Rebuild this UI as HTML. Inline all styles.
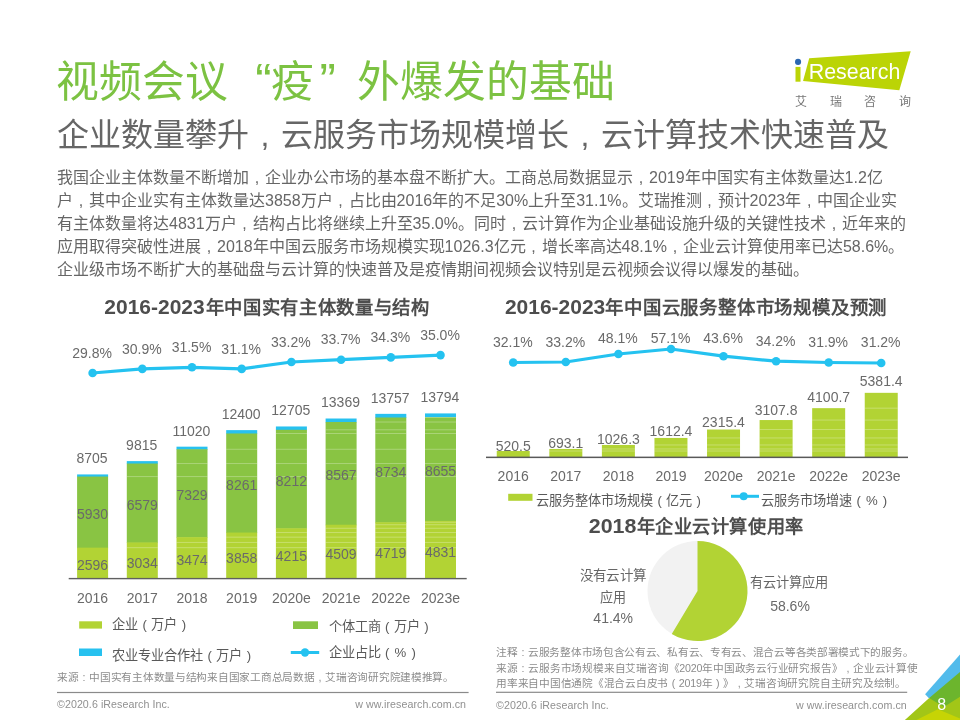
<!DOCTYPE html>
<html lang="zh-CN"><head><meta charset="utf-8"><title>slide</title>
<style>
html,body{margin:0;padding:0;background:#fff}
body{width:960px;height:720px;position:relative;overflow:hidden;will-change:transform;font-family:"Liberation Sans", sans-serif;}
.t{position:absolute;white-space:nowrap;font-family:"Liberation Sans", sans-serif;}
.title{left:56.3px;top:52px;font-size:42.8px;line-height:60px;color:#7cc242;}
.title .q{display:inline-block;box-sizing:border-box;width:42.7px;font-size:49px;line-height:0;position:relative;top:-0.5px}
.title .ql{text-align:right;padding-right:0;left:0.5px}
.title .qr{text-align:left;padding-left:5.5px}
.sub{left:57px;top:112.3px;font-size:32px;line-height:46px;color:#666;}
.body{left:57px;font-size:16px;line-height:22.9px;color:#666;}
.src{font-size:10.67px;line-height:15.5px;color:#8c8c8c;}
.ft{font-size:10.67px;line-height:14px;color:#909090;letter-spacing:0.06px}
svg{position:absolute;left:0;top:0}
svg text{font-family:"Liberation Sans", sans-serif;}
.ct{font-weight:bold;fill:#4d4d4d}
.n{font-size:14px;fill:#6a6a6a;text-anchor:middle}
.m{font-size:14px;fill:#6a6a6a;text-anchor:middle}
.lg{font-size:13.2px;line-height:17px;color:#595959}
.t i{display:inline-block;width:1em;text-align:center;font-style:normal}
.pl{font-size:13.3px;fill:#666}
</style></head>
<body>
<div class="t title">视频会议<span class="q ql">“</span>疫<span class="q qr">”</span>外爆发的基础</div>
<div class="t sub">企业数量攀升<i>,</i>云服务市场规模增长<i>,</i>云计算技术快速普及</div>
<div class="t body" id="b0" style="top:167.2px">我国企业主体数量不断增加<i>,</i>企业办公市场的基本盘不断扩大。工商总局数据显示<i>,</i>2019年中国实有主体数量达1.2亿</div>
<div class="t body" id="b1" style="top:190.1px">户<i>,</i>其中企业实有主体数量达3858万户<i>,</i>占比由2016年的不足30%上升至31.1%。艾瑞推测<i>,</i>预计2023年<i>,</i>中国企业实</div>
<div class="t body" id="b2" style="top:213.0px">有主体数量将达4831万户<i>,</i>结构占比将继续上升至35.0%。同时<i>,</i>云计算作为企业基础设施升级的关键性技术<i>,</i>近年来的</div>
<div class="t body" id="b3" style="top:235.9px">应用取得突破性进展<i>,</i>2018年中国云服务市场规模实现1026.3亿元<i>,</i>增长率高达48.1%<i>,</i>企业云计算使用率已达58.6%。</div>
<div class="t body" id="b4" style="top:258.8px">企业级市场不断扩大的基础盘与云计算的快速普及是疫情期间视频会议特别是云视频会议得以爆发的基础。</div>
<svg width="960" height="720" viewBox="0 0 960 720">
<polygon points="809.2,58.3 910.7,51.2 899.3,90.3 803.05,81.1" fill="#bbd406"/>
<rect x="795.5" y="66.9" width="5" height="14.8" fill="#bbd406"/>
<circle cx="798.05" cy="61.9" r="3.05" fill="#2a67b1"/>
<text x="808.7" y="79" font-size="21.5" fill="#ffffff" textLength="91.6" lengthAdjust="spacingAndGlyphs">Research</text>
<text x="795.3" y="105.8" font-size="12" fill="#777777">艾</text>
<text x="829.7" y="105.8" font-size="12" fill="#777777">瑞</text>
<text x="864.1" y="105.8" font-size="12" fill="#777777">咨</text>
<text x="898.5" y="105.8" font-size="12" fill="#777777">询</text>
<text class="ct" x="104.3" y="313.8" font-size="19.6" textLength="100.4" lengthAdjust="spacingAndGlyphs">2016-2023</text>
<text class="ct" x="205.5" y="313.6" font-size="18.6" textLength="224" lengthAdjust="spacingAndGlyphs">年中国实有主体数量与结构</text>
<rect x="77.10" y="474.43" width="31" height="2.65" fill="#27c1ef"/>
<rect x="77.10" y="476.57" width="31" height="71.60" fill="#89c443"/>
<rect x="77.10" y="547.67" width="31" height="31.13" fill="#b2d334"/>
<text class="n" x="92.0" y="463.2">8705</text>
<text class="n" x="92.6" y="519.1">5930</text>
<text class="n" x="92.6" y="570.2">2596</text>
<text class="n" x="92.6" y="603">2016</text>
<text class="n" x="92.1" y="357.7">29.8%</text>
<rect x="126.80" y="461.12" width="31" height="2.92" fill="#27c1ef"/>
<rect x="126.80" y="463.54" width="31" height="79.38" fill="#89c443"/>
<rect x="126.80" y="542.42" width="31" height="36.38" fill="#b2d334"/>
<rect x="126.80" y="476.07" width="31" height="1" fill="#fff" opacity="0.28"/>
<rect x="126.80" y="547.17" width="31" height="1" fill="#fff" opacity="0.28"/>
<text class="n" x="141.7" y="449.9">9815</text>
<text class="n" x="142.3" y="510.0">6579</text>
<text class="n" x="142.3" y="567.6">3034</text>
<text class="n" x="142.3" y="603">2017</text>
<text class="n" x="141.8" y="353.6">30.9%</text>
<rect x="176.50" y="446.67" width="31" height="3.10" fill="#27c1ef"/>
<rect x="176.50" y="449.27" width="31" height="88.37" fill="#89c443"/>
<rect x="176.50" y="537.15" width="31" height="41.65" fill="#b2d334"/>
<rect x="176.50" y="476.07" width="31" height="1" fill="#fff" opacity="0.28"/>
<rect x="176.50" y="547.17" width="31" height="1" fill="#fff" opacity="0.28"/>
<rect x="176.50" y="463.04" width="31" height="1" fill="#fff" opacity="0.28"/>
<rect x="176.50" y="541.92" width="31" height="1" fill="#fff" opacity="0.28"/>
<text class="n" x="191.4" y="435.5">11020</text>
<text class="n" x="192.0" y="500.2">7329</text>
<text class="n" x="192.0" y="565.0">3474</text>
<text class="n" x="192.0" y="603">2018</text>
<text class="n" x="191.5" y="352.0">31.5%</text>
<rect x="226.20" y="430.12" width="31" height="3.87" fill="#27c1ef"/>
<rect x="226.20" y="433.49" width="31" height="99.55" fill="#89c443"/>
<rect x="226.20" y="532.54" width="31" height="46.26" fill="#b2d334"/>
<rect x="226.20" y="476.07" width="31" height="1" fill="#fff" opacity="0.28"/>
<rect x="226.20" y="547.17" width="31" height="1" fill="#fff" opacity="0.28"/>
<rect x="226.20" y="463.04" width="31" height="1" fill="#fff" opacity="0.28"/>
<rect x="226.20" y="541.92" width="31" height="1" fill="#fff" opacity="0.28"/>
<rect x="226.20" y="448.77" width="31" height="1" fill="#fff" opacity="0.28"/>
<rect x="226.20" y="536.65" width="31" height="1" fill="#fff" opacity="0.28"/>
<text class="n" x="241.1" y="418.9">12400</text>
<text class="n" x="241.7" y="490.0">8261</text>
<text class="n" x="241.7" y="562.7">3858</text>
<text class="n" x="241.7" y="603">2019</text>
<text class="n" x="241.2" y="353.6">31.1%</text>
<rect x="275.90" y="426.47" width="31" height="3.83" fill="#27c1ef"/>
<rect x="275.90" y="429.80" width="31" height="98.96" fill="#89c443"/>
<rect x="275.90" y="528.26" width="31" height="50.54" fill="#b2d334"/>
<rect x="275.90" y="476.07" width="31" height="1" fill="#fff" opacity="0.28"/>
<rect x="275.90" y="547.17" width="31" height="1" fill="#fff" opacity="0.28"/>
<rect x="275.90" y="463.04" width="31" height="1" fill="#fff" opacity="0.28"/>
<rect x="275.90" y="541.92" width="31" height="1" fill="#fff" opacity="0.28"/>
<rect x="275.90" y="448.77" width="31" height="1" fill="#fff" opacity="0.28"/>
<rect x="275.90" y="536.65" width="31" height="1" fill="#fff" opacity="0.28"/>
<rect x="275.90" y="432.99" width="31" height="1" fill="#fff" opacity="0.28"/>
<rect x="275.90" y="532.04" width="31" height="1" fill="#fff" opacity="0.28"/>
<text class="n" x="290.8" y="415.3">12705</text>
<text class="n" x="291.4" y="486.0">8212</text>
<text class="n" x="291.4" y="560.5">4215</text>
<text class="n" x="291.4" y="603">2020e</text>
<text class="n" x="290.9" y="346.7">33.2%</text>
<rect x="325.60" y="418.51" width="31" height="4.01" fill="#27c1ef"/>
<rect x="325.60" y="422.02" width="31" height="103.22" fill="#89c443"/>
<rect x="325.60" y="524.74" width="31" height="54.06" fill="#b2d334"/>
<rect x="325.60" y="476.07" width="31" height="1" fill="#fff" opacity="0.28"/>
<rect x="325.60" y="547.17" width="31" height="1" fill="#fff" opacity="0.28"/>
<rect x="325.60" y="463.04" width="31" height="1" fill="#fff" opacity="0.28"/>
<rect x="325.60" y="541.92" width="31" height="1" fill="#fff" opacity="0.28"/>
<rect x="325.60" y="448.77" width="31" height="1" fill="#fff" opacity="0.28"/>
<rect x="325.60" y="536.65" width="31" height="1" fill="#fff" opacity="0.28"/>
<rect x="325.60" y="432.99" width="31" height="1" fill="#fff" opacity="0.28"/>
<rect x="325.60" y="532.04" width="31" height="1" fill="#fff" opacity="0.28"/>
<rect x="325.60" y="429.30" width="31" height="1" fill="#fff" opacity="0.28"/>
<rect x="325.60" y="527.76" width="31" height="1" fill="#fff" opacity="0.28"/>
<text class="n" x="340.5" y="407.3">13369</text>
<text class="n" x="341.1" y="480.4">8567</text>
<text class="n" x="341.1" y="558.8">4509</text>
<text class="n" x="341.1" y="603">2021e</text>
<text class="n" x="340.6" y="344.4">33.7%</text>
<rect x="375.30" y="413.85" width="31" height="4.14" fill="#27c1ef"/>
<rect x="375.30" y="417.50" width="31" height="105.22" fill="#89c443"/>
<rect x="375.30" y="522.22" width="31" height="56.58" fill="#b2d334"/>
<rect x="375.30" y="476.07" width="31" height="1" fill="#fff" opacity="0.28"/>
<rect x="375.30" y="547.17" width="31" height="1" fill="#fff" opacity="0.28"/>
<rect x="375.30" y="463.04" width="31" height="1" fill="#fff" opacity="0.28"/>
<rect x="375.30" y="541.92" width="31" height="1" fill="#fff" opacity="0.28"/>
<rect x="375.30" y="448.77" width="31" height="1" fill="#fff" opacity="0.28"/>
<rect x="375.30" y="536.65" width="31" height="1" fill="#fff" opacity="0.28"/>
<rect x="375.30" y="432.99" width="31" height="1" fill="#fff" opacity="0.28"/>
<rect x="375.30" y="532.04" width="31" height="1" fill="#fff" opacity="0.28"/>
<rect x="375.30" y="429.30" width="31" height="1" fill="#fff" opacity="0.28"/>
<rect x="375.30" y="527.76" width="31" height="1" fill="#fff" opacity="0.28"/>
<rect x="375.30" y="421.52" width="31" height="1" fill="#fff" opacity="0.28"/>
<rect x="375.30" y="524.24" width="31" height="1" fill="#fff" opacity="0.28"/>
<text class="n" x="390.2" y="402.7">13757</text>
<text class="n" x="390.8" y="476.9">8734</text>
<text class="n" x="390.8" y="557.5">4719</text>
<text class="n" x="390.8" y="603">2022e</text>
<text class="n" x="390.3" y="342.1">34.3%</text>
<rect x="425.00" y="413.41" width="31" height="4.19" fill="#27c1ef"/>
<rect x="425.00" y="417.10" width="31" height="104.27" fill="#89c443"/>
<rect x="425.00" y="520.88" width="31" height="57.92" fill="#b2d334"/>
<rect x="425.00" y="476.07" width="31" height="1" fill="#fff" opacity="0.28"/>
<rect x="425.00" y="547.17" width="31" height="1" fill="#fff" opacity="0.28"/>
<rect x="425.00" y="463.04" width="31" height="1" fill="#fff" opacity="0.28"/>
<rect x="425.00" y="541.92" width="31" height="1" fill="#fff" opacity="0.28"/>
<rect x="425.00" y="448.77" width="31" height="1" fill="#fff" opacity="0.28"/>
<rect x="425.00" y="536.65" width="31" height="1" fill="#fff" opacity="0.28"/>
<rect x="425.00" y="432.99" width="31" height="1" fill="#fff" opacity="0.28"/>
<rect x="425.00" y="532.04" width="31" height="1" fill="#fff" opacity="0.28"/>
<rect x="425.00" y="429.30" width="31" height="1" fill="#fff" opacity="0.28"/>
<rect x="425.00" y="527.76" width="31" height="1" fill="#fff" opacity="0.28"/>
<rect x="425.00" y="421.52" width="31" height="1" fill="#fff" opacity="0.28"/>
<rect x="425.00" y="524.24" width="31" height="1" fill="#fff" opacity="0.28"/>
<rect x="425.00" y="417.00" width="31" height="1" fill="#fff" opacity="0.28"/>
<rect x="425.00" y="521.72" width="31" height="1" fill="#fff" opacity="0.28"/>
<text class="n" x="439.9" y="402.2">13794</text>
<text class="n" x="440.5" y="476.0">8655</text>
<text class="n" x="440.5" y="556.8">4831</text>
<text class="n" x="440.5" y="603">2023e</text>
<text class="n" x="440.0" y="339.8">35.0%</text>
<rect x="68.7" y="577.9" width="398" height="1.4" fill="#606060"/>
<polyline points="92.6,373.0 142.3,368.9 192.0,367.3 241.7,368.9 291.4,362.0 341.1,359.7 390.8,357.4 440.5,355.1" fill="none" stroke="#24c2f0" stroke-width="3.2" stroke-linejoin="round"/>
<circle cx="92.6" cy="373.0" r="4.3" fill="#24c2f0"/>
<circle cx="142.3" cy="368.9" r="4.3" fill="#24c2f0"/>
<circle cx="192.0" cy="367.3" r="4.3" fill="#24c2f0"/>
<circle cx="241.7" cy="368.9" r="4.3" fill="#24c2f0"/>
<circle cx="291.4" cy="362.0" r="4.3" fill="#24c2f0"/>
<circle cx="341.1" cy="359.7" r="4.3" fill="#24c2f0"/>
<circle cx="390.8" cy="357.4" r="4.3" fill="#24c2f0"/>
<circle cx="440.5" cy="355.1" r="4.3" fill="#24c2f0"/>
<rect x="79.2" y="621.3" width="22.8" height="7.3" fill="#b2d334"/>
<rect x="293" y="621.3" width="25" height="7.7" fill="#89c443"/>
<rect x="79" y="648.5" width="23" height="7.5" fill="#27c1ef"/>
<line x1="290.8" y1="652.5" x2="319.2" y2="652.5" stroke="#24c2f0" stroke-width="3"/>
<circle cx="305" cy="652.5" r="4.2" fill="#24c2f0"/>
<text class="ct" x="504.9" y="314.4" font-size="19.6" textLength="100.4" lengthAdjust="spacingAndGlyphs">2016-2023</text>
<text class="ct" x="605.3" y="314.3" font-size="18.6" textLength="282" lengthAdjust="spacingAndGlyphs">年中国云服务整体市场规模及预测</text>
<text class="m" x="513.2" y="450.7">520.5</text>
<rect x="496.75" y="451.02" width="33" height="6.23" fill="#b2d334"/>
<text class="m" x="513.2" y="480.8">2016</text>
<text class="m" x="512.8" y="347.3">32.1%</text>
<text class="m" x="565.8" y="447.5">693.1</text>
<rect x="549.32" y="448.95" width="33" height="8.30" fill="#b2d334"/>
<rect x="549.32" y="450.52" width="33" height="1" fill="#fff" opacity="0.28"/>
<text class="m" x="565.8" y="480.8">2017</text>
<text class="m" x="565.3" y="347.0">33.2%</text>
<text class="m" x="618.4" y="443.5">1026.3</text>
<rect x="601.89" y="444.97" width="33" height="12.28" fill="#b2d334"/>
<rect x="601.89" y="450.52" width="33" height="1" fill="#fff" opacity="0.28"/>
<rect x="601.89" y="448.45" width="33" height="1" fill="#fff" opacity="0.28"/>
<text class="m" x="618.4" y="480.8">2018</text>
<text class="m" x="617.9" y="343.0">48.1%</text>
<text class="m" x="671.0" y="436.4">1612.4</text>
<rect x="654.46" y="437.95" width="33" height="19.30" fill="#b2d334"/>
<rect x="654.46" y="450.52" width="33" height="1" fill="#fff" opacity="0.28"/>
<rect x="654.46" y="448.45" width="33" height="1" fill="#fff" opacity="0.28"/>
<rect x="654.46" y="444.47" width="33" height="1" fill="#fff" opacity="0.28"/>
<text class="m" x="671.0" y="480.8">2019</text>
<text class="m" x="670.5" y="342.5">57.1%</text>
<text class="m" x="723.5" y="426.5">2315.4</text>
<rect x="707.03" y="429.53" width="33" height="27.72" fill="#b2d334"/>
<rect x="707.03" y="450.52" width="33" height="1" fill="#fff" opacity="0.28"/>
<rect x="707.03" y="448.45" width="33" height="1" fill="#fff" opacity="0.28"/>
<rect x="707.03" y="444.47" width="33" height="1" fill="#fff" opacity="0.28"/>
<rect x="707.03" y="437.45" width="33" height="1" fill="#fff" opacity="0.28"/>
<text class="m" x="723.5" y="480.8">2020e</text>
<text class="m" x="723.0" y="343.2">43.6%</text>
<text class="m" x="776.1" y="414.7">3107.8</text>
<rect x="759.60" y="420.05" width="33" height="37.20" fill="#b2d334"/>
<rect x="759.60" y="450.52" width="33" height="1" fill="#fff" opacity="0.28"/>
<rect x="759.60" y="448.45" width="33" height="1" fill="#fff" opacity="0.28"/>
<rect x="759.60" y="444.47" width="33" height="1" fill="#fff" opacity="0.28"/>
<rect x="759.60" y="437.45" width="33" height="1" fill="#fff" opacity="0.28"/>
<rect x="759.60" y="429.03" width="33" height="1" fill="#fff" opacity="0.28"/>
<text class="m" x="776.1" y="480.8">2021e</text>
<text class="m" x="775.6" y="346.3">34.2%</text>
<text class="m" x="828.7" y="402.2">4100.7</text>
<rect x="812.17" y="408.16" width="33" height="49.09" fill="#b2d334"/>
<rect x="812.17" y="450.52" width="33" height="1" fill="#fff" opacity="0.28"/>
<rect x="812.17" y="448.45" width="33" height="1" fill="#fff" opacity="0.28"/>
<rect x="812.17" y="444.47" width="33" height="1" fill="#fff" opacity="0.28"/>
<rect x="812.17" y="437.45" width="33" height="1" fill="#fff" opacity="0.28"/>
<rect x="812.17" y="429.03" width="33" height="1" fill="#fff" opacity="0.28"/>
<rect x="812.17" y="419.55" width="33" height="1" fill="#fff" opacity="0.28"/>
<text class="m" x="828.7" y="480.8">2022e</text>
<text class="m" x="828.2" y="347.0">31.9%</text>
<text class="m" x="881.2" y="385.8">5381.4</text>
<rect x="864.74" y="392.83" width="33" height="64.42" fill="#b2d334"/>
<rect x="864.74" y="450.52" width="33" height="1" fill="#fff" opacity="0.28"/>
<rect x="864.74" y="448.45" width="33" height="1" fill="#fff" opacity="0.28"/>
<rect x="864.74" y="444.47" width="33" height="1" fill="#fff" opacity="0.28"/>
<rect x="864.74" y="437.45" width="33" height="1" fill="#fff" opacity="0.28"/>
<rect x="864.74" y="429.03" width="33" height="1" fill="#fff" opacity="0.28"/>
<rect x="864.74" y="419.55" width="33" height="1" fill="#fff" opacity="0.28"/>
<rect x="864.74" y="407.66" width="33" height="1" fill="#fff" opacity="0.28"/>
<text class="m" x="881.2" y="480.8">2023e</text>
<text class="m" x="880.7" y="347.0">31.2%</text>
<rect x="486" y="456.6" width="422" height="1.5" fill="#595959"/>
<polyline points="513.2,362.5 565.8,362.0 618.4,354.0 671.0,349.0 723.5,356.2 776.1,361.2 828.7,362.5 881.2,363.0" fill="none" stroke="#24c2f0" stroke-width="3.2" stroke-linejoin="round"/>
<circle cx="513.2" cy="362.5" r="4.3" fill="#24c2f0"/>
<circle cx="565.8" cy="362.0" r="4.3" fill="#24c2f0"/>
<circle cx="618.4" cy="354.0" r="4.3" fill="#24c2f0"/>
<circle cx="671.0" cy="349.0" r="4.3" fill="#24c2f0"/>
<circle cx="723.5" cy="356.2" r="4.3" fill="#24c2f0"/>
<circle cx="776.1" cy="361.2" r="4.3" fill="#24c2f0"/>
<circle cx="828.7" cy="362.5" r="4.3" fill="#24c2f0"/>
<circle cx="881.2" cy="363.0" r="4.3" fill="#24c2f0"/>
<rect x="508.2" y="493.8" width="24.3" height="7" fill="#b2d334"/>
<line x1="731" y1="496.3" x2="759" y2="496.3" stroke="#24c2f0" stroke-width="3"/>
<circle cx="743.7" cy="496.3" r="4" fill="#24c2f0"/>
<text class="ct" x="588.8" y="533.2" font-size="19.6" textLength="47.6" lengthAdjust="spacingAndGlyphs">2018</text>
<text class="ct" x="636.6" y="533" font-size="18.6" textLength="167.2" lengthAdjust="spacingAndGlyphs">年企业云计算使用率</text>
<circle cx="697.5" cy="591.0" r="50" fill="#f2f2f2"/>
<path d="M697.5 591.0 L697.5 541.0 A50 50 0 1 1 671.78 633.88 Z" fill="#b2d334"/>
<text class="pl" x="613" y="579.5" text-anchor="middle" textLength="66" lengthAdjust="spacingAndGlyphs">没有云计算</text>
<text class="pl" x="612.5" y="601.8" text-anchor="middle" textLength="25.5" lengthAdjust="spacingAndGlyphs">应用</text>
<text class="m" x="613.2" y="623">41.4%</text>
<text class="pl" x="788.7" y="587.4" text-anchor="middle" textLength="77.5" lengthAdjust="spacingAndGlyphs">有云计算应用</text>
<text class="m" x="790" y="610.5">58.6%</text>
<polygon points="925.1,694.2 960,654.4 960,690 929.2,698.6" fill="#52bbeb"/>
<polygon points="929.2,698.1 960,671.9 960,720 945,720" fill="#6cb52d"/>
<polygon points="904.9,720 929.2,698.1 943.8,706.9 960,696.7 960,720" fill="#a2c617"/>
<polygon points="916.5,720 937.9,709.3 960,718.6 960,720" fill="#c6d405"/>
<text x="941.7" y="709.8" font-size="16" fill="#ffffff" text-anchor="middle">8</text>
<rect x="57" y="691.9" width="411.6" height="1.2" fill="#8a8a8a"/>
<rect x="496" y="691.7" width="411.2" height="1.2" fill="#8a8a8a"/>
</svg>
<div class="t lg" id="l1" style="left:112.2px;top:615.5px">企业<i>(</i>万户<i>)</i></div>
<div class="t lg" id="l2" style="left:328.7px;top:618.0px">个体工商<i>(</i>万户<i>)</i></div>
<div class="t lg" id="l3" style="left:112.2px;top:646.5px">农业专业合作社<i>(</i>万户<i>)</i></div>
<div class="t lg" id="l4" style="left:328.7px;top:644.0px">企业占比<i>(</i><i>%</i><i>)</i></div>
<div class="t lg" id="l5" style="left:536.0px;top:491.5px">云服务整体市场规模<i>(</i>亿元<i>)</i></div>
<div class="t lg" id="l6" style="left:761.0px;top:491.5px">云服务市场增速<i>(</i><i>%</i><i>)</i></div>
<div class="t src" style="left:57px;top:669.8px;letter-spacing:-0.27px" id="src1">来源<i>:</i>中国实有主体数量与结构来自国家工商总局数据<i>,</i>艾瑞咨询研究院建模推算。</div>
<div class="t src" style="left:496px;top:645.3px;letter-spacing:-0.3px" id="n1">注释<i>:</i>云服务整体市场包含公有云、私有云、专有云、混合云等各类部署模式下的服务。</div>
<div class="t src" style="left:496px;top:660.8px;letter-spacing:-0.21px" id="n2">来源<i>:</i>云服务市场规模来自艾瑞咨询《2020年中国政务云行业研究报告》<i>,</i>企业云计算使</div>
<div class="t src" style="left:496px;top:676.3px;letter-spacing:-0.24px" id="n3">用率来自中国信通院《混合云白皮书<i>(</i>2019年<i>)</i>》<i>,</i>艾瑞咨询研究院自主研究及绘制。</div>
<div class="t ft" style="left:57px;top:697px" id="f1">©2020.6 iResearch Inc.</div>
<div class="t ft" style="left:355.3px;top:697px" id="f2">w ww.iresearch.com.cn</div>
<div class="t ft" style="left:496px;top:698px" id="f3">©2020.6 iResearch Inc.</div>
<div class="t ft" style="left:796px;top:698px" id="f4">w ww.iresearch.com.cn</div>
</body></html>
